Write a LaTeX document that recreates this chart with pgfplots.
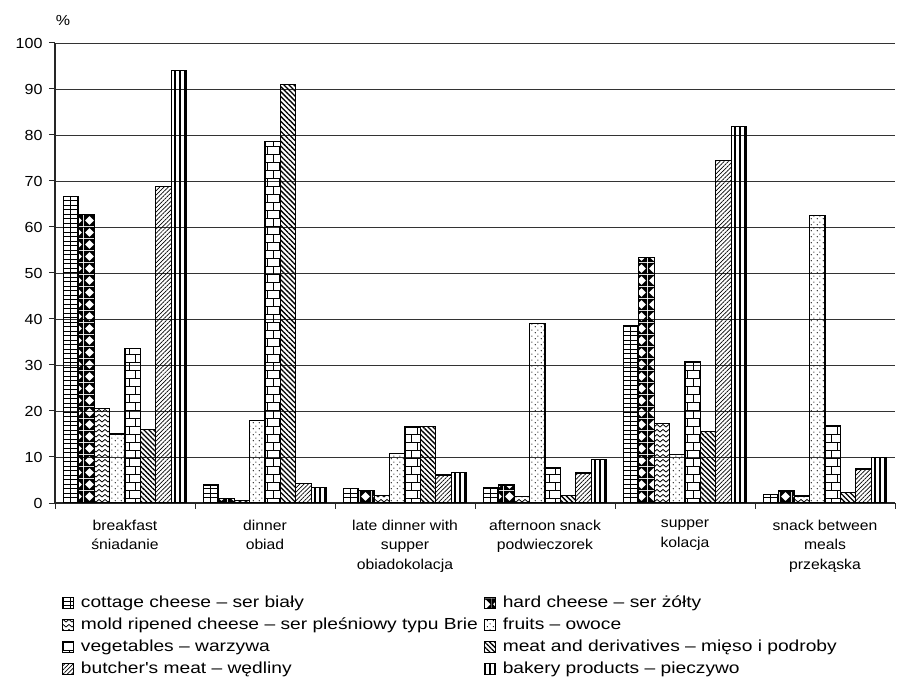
\documentclass[border=0pt]{standalone}
\usepackage{fontspec}
\setmainfont{Liberation Sans}
\newfontfamily\lblfont{Liberation Sans}[FakeStretch=1.1]
\newfontfamily\legendfont{Liberation Sans}[FakeStretch=1.2]
\usepackage{pgfplots}
\pgfplotsset{compat=1.18}
\usepackage{pgfplotstable}
\usetikzlibrary{patterns,patterns.meta}

% fill patterns for the eight product groups
\tikzdeclarepattern{name=smallgrid, type=uncolored,
  bounding box={(-0.5bp,-0.5bp) and (7.5bp,5bp)}, tile size={(7bp,4.5bp)},
  code={\draw[line width=0.8bp] (0,0) -- (7bp,0) (0,0) -- (0,4.5bp);}}
\tikzdeclarepattern{name=diamonds, type=uncolored,
  bounding box={(0,0) and (12bp,12bp)}, tile size={(12bp,12bp)},
  code={\fill[even odd rule] (0,0) rectangle (12bp,12bp)
        (6bp,1bp) -- (11bp,6bp) -- (6bp,11bp) -- (1bp,6bp) -- cycle;}}
\tikzdeclarepattern{name=zigzag, type=uncolored,
  bounding box={(-0.5bp,-0.5bp) and (6.5bp,5.5bp)}, tile size={(6bp,5bp)},
  code={\draw[line width=0.8bp] (0,0) -- (3bp,2.5bp) -- (6bp,0);}}
\tikzdeclarepattern{name=sparsedots, type=uncolored,
  bounding box={(0,0) and (6bp,6bp)}, tile size={(6bp,6bp)},
  code={\fill (1.5bp,1.5bp) circle (0.7bp); \fill (4.5bp,4.5bp) circle (0.7bp);}}
\tikzdeclarepattern{name=brickwall, type=uncolored,
  bounding box={(-0.5bp,-0.5bp) and (12.5bp,16.5bp)}, tile size={(12bp,16bp)},
  code={\draw[line width=0.9bp] (0,0) -- (12bp,0) (0,8bp) -- (12bp,8bp)
        (3bp,0) -- (3bp,8bp) (9bp,8bp) -- (9bp,16bp);}}

% shares of respondents (%) by meal
\pgfplotstableread{
x    cottage hard  mold  fruits veg   meat  butcher bakery
0.5  66.7    62.7  20.6  15.0   33.5  15.9  68.8    94.0
1.5  3.9     0.9   0.5   17.9   78.6  90.9  4.3     3.4
2.5  3.2     2.7   1.7   10.7   16.5  16.6  6.1     6.7
3.5  3.4     3.9   1.4   39.0   7.6   1.6   6.5     9.5
4.5  38.6    53.3  17.2  10.6   30.8  15.5  74.4    81.8
5.5  1.9     2.6   1.5   62.5   16.9  2.3   7.4     9.9
}\meals

\newcommand{\tck}{\lblfont\fontsize{14.6bp}{19bp}\selectfont}
\newcommand{\lbl}{\lblfont\fontsize{14.3bp}{19.5bp}\selectfont}

\begin{document}
\begin{tikzpicture}
\path[use as bounding box] (0,0) rectangle (901bp,682bp);
\node[anchor=center, font=\tck] at (63bp,662bp) {\%};
\begin{axis}[
  at={(55bp,179bp)}, anchor=south west,
  width=840bp, height=460bp, scale only axis,
  xmin=0, xmax=6, ymin=0, ymax=100,
  axis x line*=bottom, axis y line*=left,
  axis line style={-, line width=1.2bp, black!85},
  ytick={0,10,...,100},
  ymajorgrids, major grid style={line width=0.8bp, black!80},
  tick align=outside, major tick length=6bp,
  tick style={line width=1bp, black!85},
  xtick={0,1,...,6}, x tick label as interval,
  xticklabels={breakfast\\śniadanie, dinner\\obiad, late dinner with\\supper\\obiadokolacja,
    afternoon snack\\podwieczorek, supper\\kolacja, snack between\\meals\\przekąska},
  xticklabel style={align=center, font=\lbl, anchor=north, yshift=-7.5bp},
  yticklabel style={font=\tck, xshift=-3bp},
  /pgf/number format/assume math mode=true,
  ybar=0pt, bar width=0.11,
  every axis plot/.append style={draw=black, line width=1.2bp},
  area legend,
  legend image code/.code={\draw[#1, line width=0.8bp] (0bp,-5.5bp) rectangle (11bp,5.5bp);},
  legend columns=2,
  legend cell align=left,
  legend style={draw=none, fill=none, inner sep=0pt,
    at={(axis description cs:0.0083,-0.2)}, anchor=north west,
    font=\legendfont\fontsize{16bp}{19bp}\selectfont,
    nodes={inner sep=0pt, text height=12bp, text depth=4bp},
    row sep=6bp,
    /tikz/every odd column/.append style={column sep=7bp}},
]
\addplot[pattern=smallgrid] table[x=x, y=cottage] {\meals};
\addlegendentry{\makebox[403bp][l]{cottage cheese – ser biały}}
\addplot[pattern=diamonds] table[x=x, y=hard] {\meals};
\addlegendentry{hard cheese – ser żółty}
\addplot[pattern=zigzag] table[x=x, y=mold] {\meals};
\addlegendentry{\makebox[403bp][l]{mold ripened cheese – ser pleśniowy typu Brie}}
\addplot[pattern=sparsedots] table[x=x, y=fruits] {\meals};
\addlegendentry{fruits – owoce}
\addplot[pattern=brickwall] table[x=x, y=veg] {\meals};
\addlegendentry{\makebox[403bp][l]{vegetables – warzywa}}
\addplot[pattern={Lines[angle=-45, distance=3.5bp, line width=1.3bp]}] table[x=x, y=meat] {\meals};
\addlegendentry{meat and derivatives – mięso i podroby}
\addplot[pattern={Lines[angle=45, distance=3bp, line width=0.7bp]}] table[x=x, y=butcher] {\meals};
\addlegendentry{\makebox[403bp][l]{butcher's meat – wędliny}}
\addplot[pattern={Lines[angle=90, distance=5bp, line width=2.4bp]}] table[x=x, y=bakery] {\meals};
\addlegendentry{bakery products – pieczywo}
\end{axis}
\end{tikzpicture}
\end{document}
